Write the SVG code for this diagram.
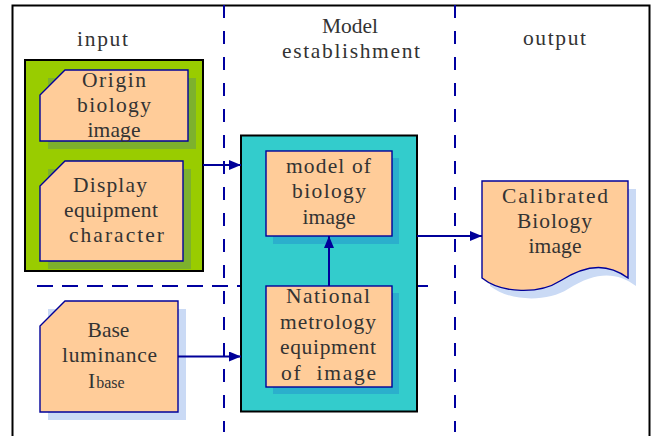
<svg xmlns="http://www.w3.org/2000/svg" width="654" height="436" viewBox="0 0 654 436">
<defs>
<style>
text{font-family:"Liberation Serif","DejaVu Serif",serif;font-size:21.5px;fill:#333;text-anchor:middle}
.node{fill:#FFCC99;stroke:#000099;stroke-width:1.4}
.dash{stroke:#0000A0;stroke-width:2;fill:none}
.conn{stroke:#000099;stroke-width:2;fill:none}
</style>
<marker id="ah" viewBox="0 0 12 10" refX="12" refY="5" markerWidth="12" markerHeight="10" markerUnits="userSpaceOnUse" orient="auto">
<path d="M0,0 L12,5 L0,10 Z" fill="#000099"/>
</marker>
</defs>
<rect x="0" y="0" width="654" height="436" fill="#fff"/>
<rect x="12.5" y="5.5" width="637" height="440" fill="none" stroke="#000" stroke-width="2"/>
<g id="lanes">
<line class="dash" x1="224" y1="5" x2="224" y2="432" stroke-dasharray="13,13"/>
<line class="dash" x1="455" y1="5" x2="455" y2="432" stroke-dasharray="13,13"/>
<line class="dash" x1="37" y1="286" x2="432" y2="286" stroke-dasharray="16,9"/>
<text x="102.5" y="46" textLength="51" lengthAdjust="spacing">input</text>
<text x="350" y="33">Model</text>
<text x="351" y="58" textLength="138" lengthAdjust="spacing">establishment</text>
<text x="554.5" y="45" textLength="63" lengthAdjust="spacing">output</text>
</g>
<g id="input-group">
<rect x="25" y="60" width="178" height="211" fill="#99CC00" stroke="#000" stroke-width="2"/>
</g>
<g id="origin">
<path d="M48,78 H196 V149 H48 Z" fill="#7DB12D"/>
<path class="node" d="M65,70 H188 V141 H40 V95 Z"/>
<text x="114" y="87" textLength="64" lengthAdjust="spacing">Origin</text>
<text x="114" y="112" textLength="74" lengthAdjust="spacing">biology</text>
<text x="114" y="137" textLength="53" lengthAdjust="spacing">image</text>
</g>
<g id="display">
<path d="M48,169 H191 V269 H48 Z" fill="#7DB12D"/>
<path class="node" d="M65,161 H183 V261 H40 V186 Z"/>
<text x="110" y="192" textLength="74" lengthAdjust="spacing">Display</text>
<text x="111" y="217" textLength="94" lengthAdjust="spacing">equipment</text>
<text x="116.5" y="242" textLength="95" lengthAdjust="spacing">character</text>
</g>
<g id="base">
<path d="M48,309 H186 V420 H48 Z" fill="#CADAF5"/>
<path class="node" d="M65,301 H178 V412 H40 V326 Z"/>
<text x="108.5" y="337">Base</text>
<text x="109.5" y="362" textLength="95" lengthAdjust="spacing">luminance</text>
<text x="88" y="388" style="text-anchor:start">I<tspan font-size="16px" dx="1">base</tspan></text>
</g>
<g id="model-group">
<rect x="241" y="135.5" width="176" height="276" fill="#33CCCC" stroke="#000" stroke-width="2"/>
</g>
<g id="model">
<rect x="273" y="158" width="126" height="86" fill="#2BAFCC"/>
<rect class="node" x="266" y="151" width="126" height="85"/>
<text x="328.5" y="173" textLength="85" lengthAdjust="spacing">model of</text>
<text x="329" y="198" textLength="74" lengthAdjust="spacing">biology</text>
<text x="329" y="224" textLength="53" lengthAdjust="spacing">image</text>
</g>
<g id="national">
<rect x="273" y="293" width="126" height="101" fill="#2BAFCC"/>
<rect class="node" x="266" y="286" width="126" height="101"/>
<text x="328" y="303" textLength="84" lengthAdjust="spacing">National</text>
<text x="328" y="329" textLength="96" lengthAdjust="spacing">metrology</text>
<text x="328" y="354" textLength="96" lengthAdjust="spacing">equipment</text>
<text x="328.5" y="380" textLength="95" lengthAdjust="spacing" xml:space="preserve">of  image</text>
</g>
<g id="calibrated">
<path d="M490,189 H636 V286 C618,273 598,270 568,289 C548,302 510,302 490,286 Z" fill="#CADAF5"/>
<path class="node" d="M482,181 H628 V278 C610,265 590,262 560,281 C540,294 502,294 482,278 Z"/>
<text x="555" y="203" textLength="106" lengthAdjust="spacing">Calibrated</text>
<text x="554.5" y="228" textLength="75" lengthAdjust="spacing">Biology</text>
<text x="555" y="253" textLength="53" lengthAdjust="spacing">image</text>
</g>
<g id="connectors">
<line class="conn" x1="203" y1="165" x2="241" y2="165" marker-end="url(#ah)"/>
<line class="conn" x1="178" y1="356.5" x2="241" y2="356.5" marker-end="url(#ah)"/>
<line class="conn" x1="329" y1="286" x2="329" y2="236" marker-end="url(#ah)"/>
<line class="conn" x1="417" y1="236" x2="482" y2="236" marker-end="url(#ah)"/>
</g>
</svg>
